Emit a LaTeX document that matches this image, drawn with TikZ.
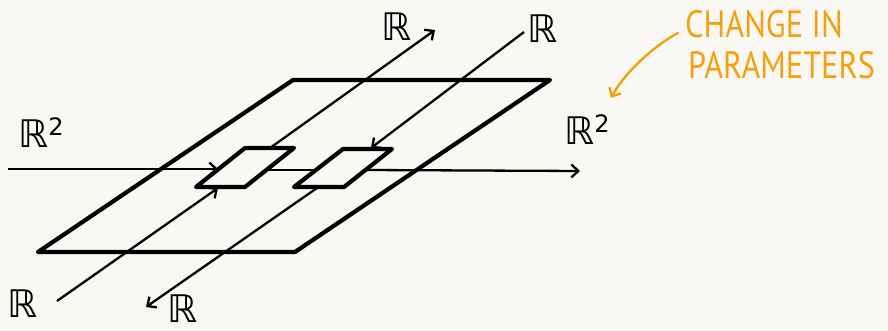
\documentclass[tikz,border=0pt]{standalone}
\usepackage{fontspec}
\usetikzlibrary{arrows.meta}
\definecolor{bg}{HTML}{FAF8F4}
\definecolor{orng}{HTML}{F5A00F}
\newfontfamily\handfont{PT Sans}
\newfontfamily\bbfont{DejaVu Sans}
\newcommand{\RR}{{\bbfont ℝ}}
\begin{document}
\begin{tikzpicture}[x=1pt,y=-1pt,
  frame/.style={line width=4.2pt, line join=round, line cap=round},
  wire/.style={line width=2.3pt},
  arr/.style={wire,-{Straight Barb[length=7pt,width=13pt]}},
  lbl/.style={inner sep=0pt, font=\fontsize{38}{38}\selectfont},
  note/.style={inner sep=0pt, anchor=west, text=orng, font=\handfont\fontsize{38}{38}\selectfont}]
\fill[bg] (0,0) rectangle (888,331);
\useasboundingbox (0,0) rectangle (888,331);
% big parallelogram
\coordinate (B1) at (38,252); \coordinate (B2) at (293,80);
\coordinate (B3) at (550,80); \coordinate (B4) at (295,252);
% left small
\coordinate (L1) at (196,187); \coordinate (L2) at (245,148);
\coordinate (L3) at (294,148); \coordinate (L4) at (245,187);
% right small
\coordinate (R1) at (294,187); \coordinate (R2) at (343,149);
\coordinate (R3) at (392,149); \coordinate (R4) at (344,187);
% wire end points
\coordinate (hin) at (8,169); \coordinate (hL) at (218,169);
\coordinate (hm1) at (266,170); \coordinate (hm2) at (316,170);
\coordinate (hR) at (366,170); \coordinate (hout) at (580,171);
\coordinate (d1a) at (270,148); \coordinate (d1b) at (435,30);
\coordinate (d2a) at (524,32); \coordinate (d2b) at (371,148);
\coordinate (d3a) at (57,301); \coordinate (d3b) at (218,188);
\coordinate (d4a) at (317,188); \coordinate (d4b) at (146,307);
% wires
\draw[arr] (hin) -- (hL);
\draw[wire] (hm1) -- (hm2);
\draw[arr] (hR) -- (hout);
\draw[arr] (d1a) -- (d1b);
\draw[arr] (d2a) -- (d2b);
\draw[arr] (d3a) -- (d3b);
\draw[arr] (d4a) -- (d4b);
% frames
\draw[frame] (B1) -- (B2) -- (B3) -- (B4) -- cycle;
\draw[frame] (L1) -- (L2) -- (L3) -- (L4) -- cycle;
\draw[frame] (R1) -- (R2) -- (R3) -- (R4) -- cycle;
% labels
\node[lbl] (t1) at (397,27) {\RR};
\node[lbl] (t2) at (543,29) {\RR};
\node[lbl] (l2) at (41,133) {\RR\raisebox{12pt}{\fontsize{24}{24}\selectfont\bbfont 2}};
\node[lbl] (r2) at (587,130) {\RR\raisebox{12pt}{\fontsize{24}{24}\selectfont\bbfont 2}};
\node[lbl] (b1) at (23,304) {\RR};
\node[lbl] (b2) at (183,309) {\RR};
% note
\node[note] (n1) at (685,24) {\scalebox{0.85}[1]{CHANGE IN}};
\node[note] (n2) at (688,65) {\scalebox{0.85}[1]{PARAMETERS}};
\coordinate (na) at (678,33); \coordinate (nb) at (611,98);
\draw[orng, line width=2.4pt, line cap=round, -{Straight Barb[length=7pt,width=13pt]}]
  (na) .. controls (655,45) and (625,72) .. (nb);
\end{tikzpicture}
\end{document}
